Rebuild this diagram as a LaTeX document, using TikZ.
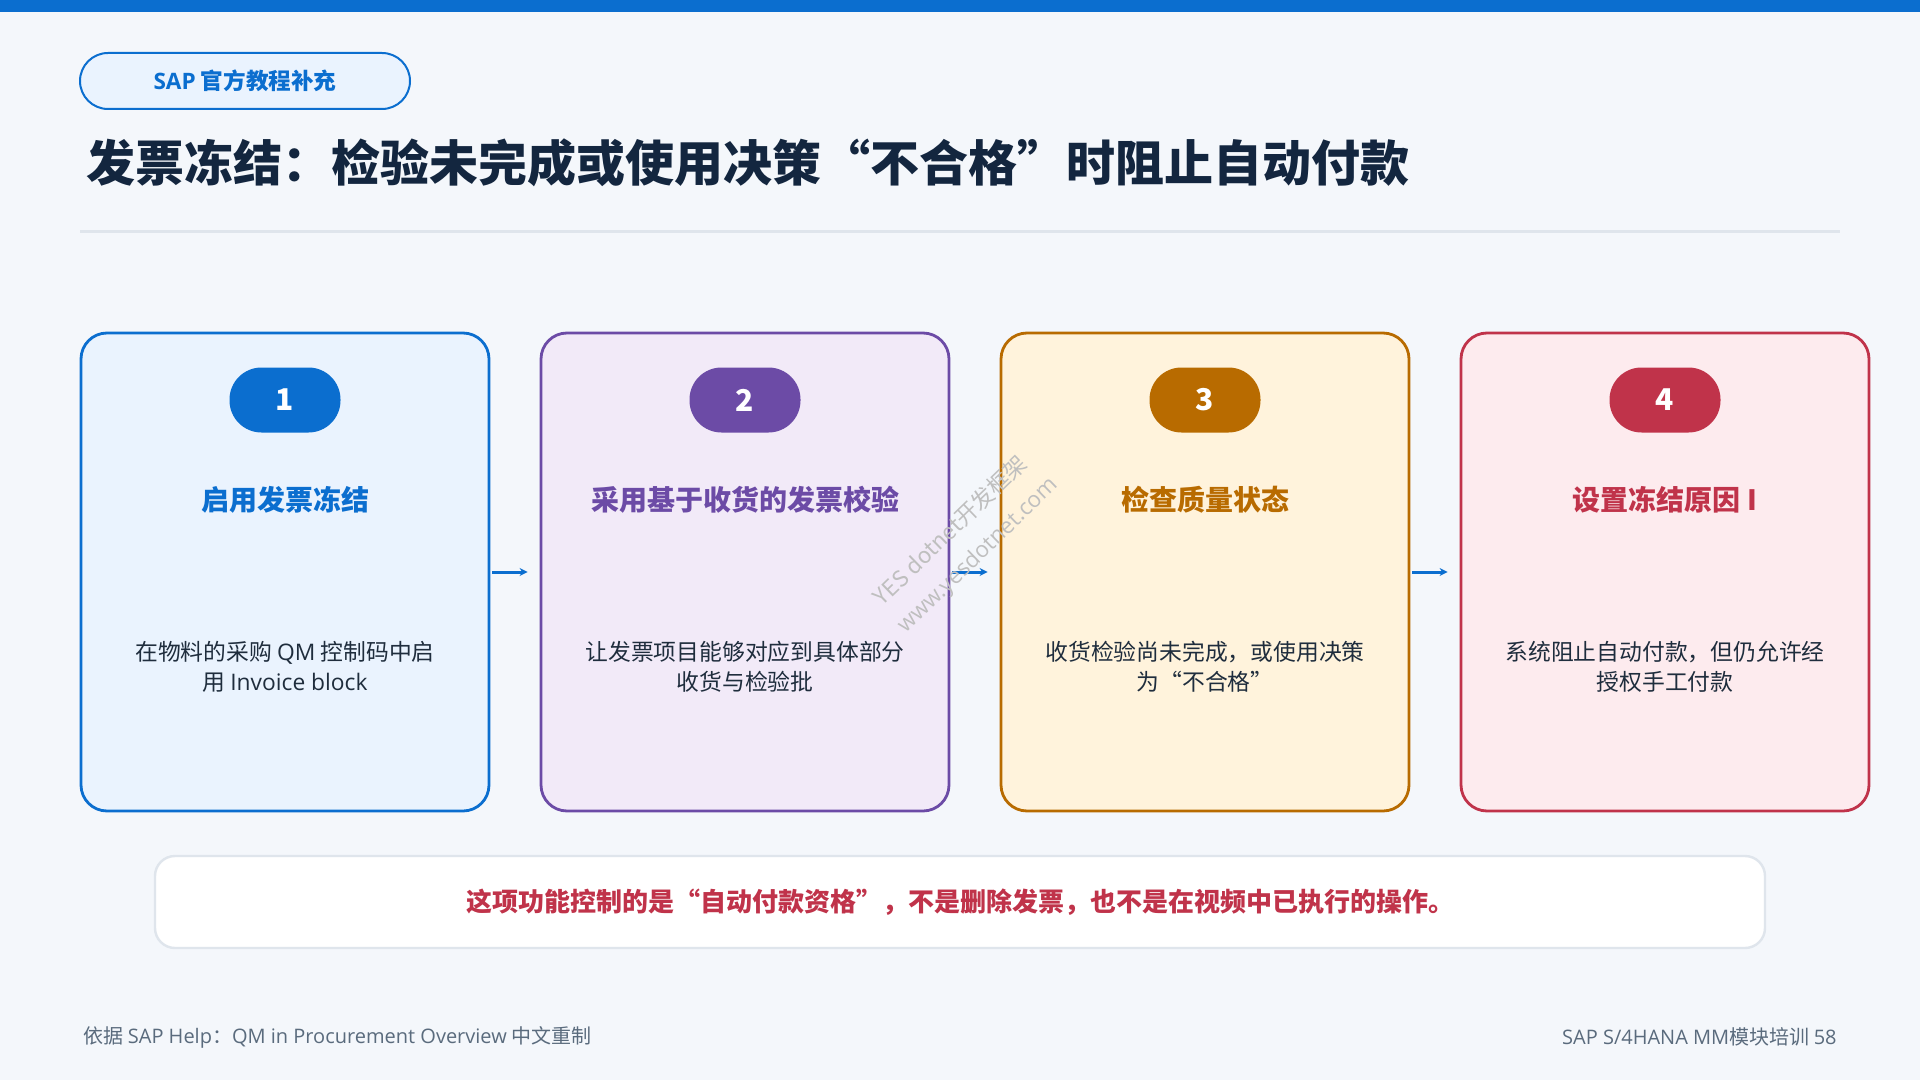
\documentclass[tikz,border=0pt]{standalone}
\usepackage{fontspec}
\setmainfont{Noto Sans CJK SC}
\newfontfamily\latin{Open Sans}
\usetikzlibrary{arrows.meta}

\definecolor{bgpage}{HTML}{F4F7FB}
\definecolor{sapblue}{HTML}{0B6ECF}
\definecolor{bluefill}{HTML}{EAF3FE}
\definecolor{purp}{HTML}{6C4BA6}
\definecolor{purpfill}{HTML}{F2EAF8}
\definecolor{ochre}{HTML}{B86B00}
\definecolor{ochrefill}{HTML}{FFF3DC}
\definecolor{crim}{HTML}{C0334A}
\definecolor{crimfill}{HTML}{FDEBEE}
\definecolor{ink}{HTML}{13263F}
\definecolor{bodyink}{HTML}{1F2D3D}
\definecolor{rulegray}{HTML}{DFE5EC}
\definecolor{footgray}{HTML}{5A6B7D}

\begin{document}
\begin{tikzpicture}[x=0.5pt, y=-0.5pt,
  card/.style={rectangle, rounded corners=13pt, line width=1.4pt,
    minimum width=204pt, minimum height=239pt},
  badge/.style={rectangle, rounded corners=16pt, minimum width=55.5pt,
    minimum height=32.5pt, text=white, font=\bfseries\fontsize{15}{15}\selectfont},
  stephead/.style={font=\bfseries\fontsize{14}{16}\selectfont},
  stepdesc/.style={align=center, text=bodyink, font=\fontsize{11.4}{15}\selectfont},
  flow/.style={-{Stealth[length=4pt,width=4pt]}, draw=sapblue, line width=1.5pt,
    shorten <=1pt, shorten >=6pt},
  wmtext/.style={rotate=44, text=black!25, inner sep=0pt, font=\fontsize{11.2}{11.2}\selectfont},
  foot/.style={inner sep=0pt, text=footgray, font=\fontsize{10}{10}\selectfont},
  ]
 % page
 \fill[bgpage] (0,0) rectangle (1920,1080);
 \useasboundingbox (0,0) rectangle (1920,1080);
 \fill[sapblue] (0,0) rectangle (1920,12);

 % header
 \node [rectangle, rounded corners=14pt, draw=sapblue, fill=bluefill, line width=1pt,
   minimum width=165pt, minimum height=28pt, text=sapblue,
   font=\bfseries\fontsize{11.3}{11.3}\selectfont] (tag) at (245,81) {{\latin SAP} 官方教程补充};
 \node [anchor=west, text=ink, inner sep=0pt, font=\bfseries\fontsize{24.5}{26}\selectfont]
   (title) at (86,163) {发票冻结：检验未完成或使用决策“不合格”时阻止自动付款};
 \draw [rulegray, line width=1.5pt] (80,232) coordinate (ruleL) -- (1840,232) coordinate (ruleR);

 % steps
 \node [card, draw=sapblue, fill=bluefill] (c1) at (285,572) {};
 \node [card, draw=purp, fill=purpfill] (c2) at (745,572) {};
 \node [card, draw=ochre, fill=ochrefill] (c3) at (1205,572) {};
 \node [card, draw=crim, fill=crimfill] (c4) at (1665,572) {};

 \node [badge, fill=sapblue] (b1) at (285,400) {1};
 \node [badge, fill=purp] (b2) at (745,400) {2};
 \node [badge, fill=ochre] (b3) at (1205,400) {3};
 \node [badge, fill=crim] (b4) at (1665,400) {4};

 \node [stephead, text=sapblue] (h1) at (285,500) {启用发票冻结};
 \node [stephead, text=purp] (h2) at (745,500) {采用基于收货的发票校验};
 \node [stephead, text=ochre] (h3) at (1205,500) {检查质量状态};
 \node [stephead, text=crim] (h4) at (1665,500) {设置冻结原因 I};

 \node [stepdesc] (d1) at (285,667) {在物料的采购 {\latin QM} 控制码中启\\用 {\latin Invoice block}};
 \node [stepdesc] (d2) at (745,667) {让发票项目能够对应到具体部分\\收货与检验批};
 \node [stepdesc] (d3) at (1205,667) {收货检验尚未完成，或使用决策\\为“不合格”};
 \node [stepdesc] (d4) at (1665,667) {系统阻止自动付款，但仍允许经\\授权手工付款};

 \draw [flow] (c1) -- (c2);
 \draw [flow] (c2) -- (c3);
 \draw [flow] (c3) -- (c4);

 % watermark
 \node [wmtext] (wm1) at (950,530) {YES dotnet开发框架};
 \node [wmtext] (wm2) at (978,556) {{\latin www.yesdotnet.com}};

 % note
 \node [rectangle, rounded corners=10pt, draw=rulegray, fill=white, line width=1.2pt,
   minimum width=805pt, minimum height=46pt, text=crim,
   font=\bfseries\fontsize{13}{13}\selectfont] (note) at (960,902)
   {这项功能控制的是“自动付款资格”，不是删除发票，也不是在视频中已执行的操作。};

 % footer
 \node [foot, anchor=west] (src) at (83,1037)
   {依据 {\latin SAP Help}：{\latin QM in Procurement Overview} 中文重制};
 \node [foot, anchor=east] (pg) at (1837,1037)
   {{\latin SAP S/4HANA MM}模块培训 {\latin 58}};
\end{tikzpicture}
\end{document}
